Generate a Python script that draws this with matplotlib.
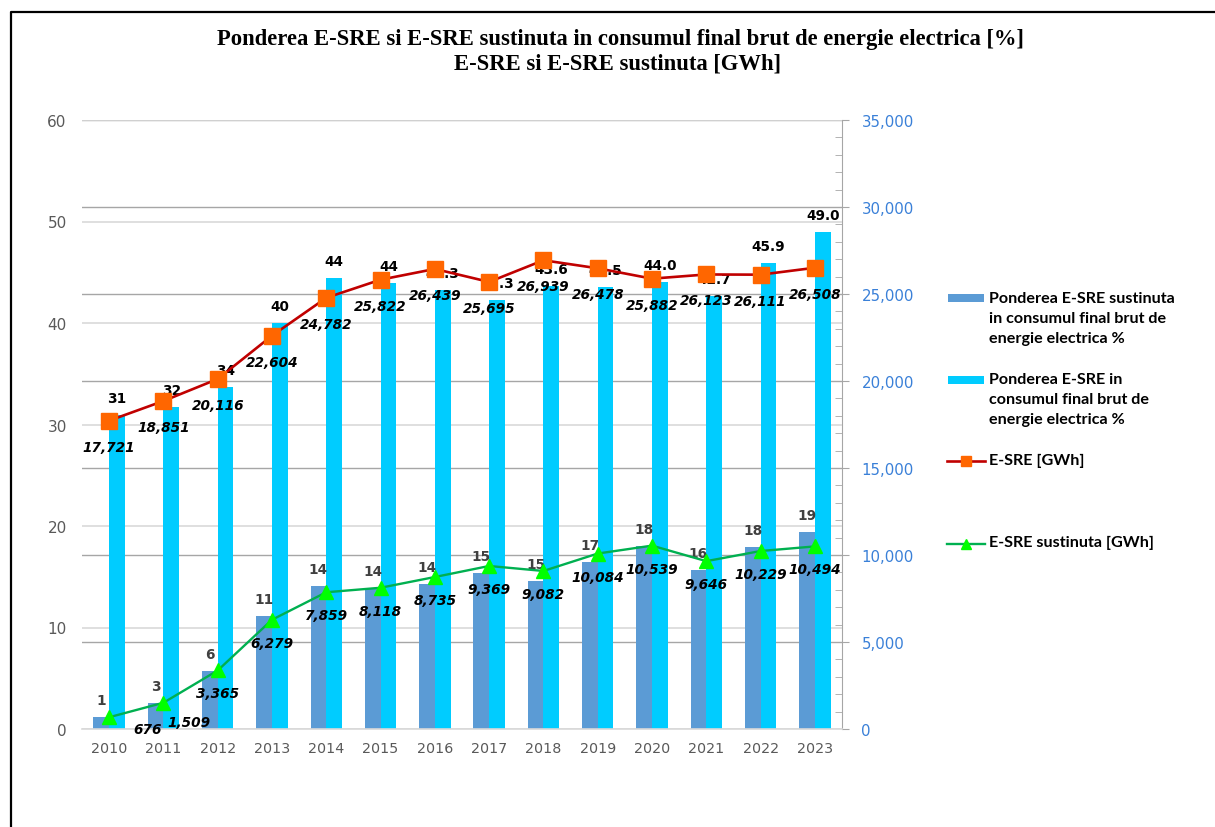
import matplotlib
matplotlib.use("Agg")
import matplotlib.pyplot as plt
from matplotlib.lines import Line2D
from matplotlib.patches import Rectangle
from matplotlib.ticker import MultipleLocator, FuncFormatter
import numpy as np

years = ["2010", "2011", "2012", "2013", "2014", "2015", "2016",
         "2017", "2018", "2019", "2020", "2021", "2022", "2023"]
pct_sustinuta = [1.2, 2.6, 5.7, 11.1, 14.1, 13.9, 14.3, 15.4, 14.6, 16.5, 18.0, 15.7, 17.9, 19.4]
pct_sustinuta_labels = ["1", "3", "6", "11", "14", "14", "14", "15", "15", "17", "18", "16", "18", "19"]
pct_esre = [30.9, 31.7, 33.7, 40.0, 44.4, 43.9, 43.3, 42.3, 43.6, 43.5, 44.0, 42.7, 45.9, 49.0]
pct_esre_labels = ["31", "32", "34", "40", "44", "44", "43.3", "42.3", "43.6", "43.5", "44.0", "42.7", "45.9", "49.0"]
gwh_esre = [17721, 18851, 20116, 22604, 24782, 25822, 26439, 25695, 26939, 26478, 25882, 26123, 26111, 26508]
gwh_sustinuta = [676, 1509, 3365, 6279, 7859, 8118, 8735, 9369, 9082, 10084, 10539, 9646, 10229, 10494]

legend_labels = ["Ponderea E-SRE sustinuta\nin consumul final brut de\nenergie electrica %",
                 "Ponderea E-SRE in\nconsumul final brut de\nenergie electrica %",
                 "E-SRE [GWh]",
                 "E-SRE sustinuta [GWh]"]

C_DARK = "#5B9BD5"
C_LIGHT = "#00CCFF"
C_RED = "#C00000"
C_ORANGE = "#FF6600"
C_GREEN = "#00B050"
C_LIME = "#00FF00"
C_BLUE_TXT = "#3A80D8"
C_GRAY_TXT = "#595959"

W, H = 1215, 828
fig = plt.figure(figsize=(W / 100, H / 100), dpi=100)
fig.patch.set_facecolor("white")

def fx(px):
    return px / W

def fy(py):
    return 1 - py / H

rect = [fx(82), fy(730), fx(842) - fx(82), fy(121) - fy(730)]
ax = fig.add_axes(rect)
axg = ax.twinx()
axl = ax.twinx()
axg.set_zorder(0)
ax.set_zorder(1)
axl.set_zorder(2)
ax.patch.set_visible(False)
axl.patch.set_visible(False)
axg.patch.set_facecolor("white")

x = np.arange(len(years))
bw = 0.29

# grid axis (right scale gridlines, ticks)
axg.set_ylim(0, 35000)
axg.yaxis.set_major_locator(MultipleLocator(5000))
axg.yaxis.set_minor_locator(MultipleLocator(1000))
axg.yaxis.set_major_formatter(FuncFormatter(lambda v, p: f"{int(v):,}"))
axg.grid(True, axis="y", which="major", color="#A6A6A6", linewidth=1.0)
axg.tick_params(axis="y", which="major", direction="out", length=5, color="#A6A6A6",
                labelcolor=C_BLUE_TXT, labelsize=10.8, pad=9)
axg.tick_params(axis="y", which="minor", direction="in", length=5, color="#A6A6A6")
for s in ["left", "top", "bottom"]:
    axg.spines[s].set_visible(False)
axg.spines["right"].set_color("#A6A6A6")

# bar axis
ax.set_xlim(-0.5, len(years) - 0.5)
ax.set_ylim(0, 60)
ax.yaxis.set_major_locator(MultipleLocator(10))
ax.set_axisbelow(True)
ax.grid(True, axis="y", color="#D9D9D9", linewidth=1.2)
for s in ["left", "top", "right"]:
    ax.spines[s].set_visible(False)
ax.spines["bottom"].set_color("#D9D9D9")
ax.spines["bottom"].set_linewidth(1.2)
ax.tick_params(axis="y", length=0, labelcolor=C_GRAY_TXT, labelsize=11, pad=11)
ax.tick_params(axis="x", length=0, labelcolor=C_GRAY_TXT, labelsize=10.3, pad=9)
ax.set_xticks(x)
ax.set_xticklabels(years)

b1 = ax.bar(x - bw / 2, pct_sustinuta, width=bw, color=C_DARK, zorder=2)
b2 = ax.bar(x + bw / 2, pct_esre, width=bw, color=C_LIGHT, zorder=2)

for rct, lab in zip(b1, pct_sustinuta_labels):
    ax.annotate(lab, (rct.get_x() + rct.get_width() / 2, rct.get_height()),
                xytext=(0, 17), textcoords="offset pixels", ha="center", va="center",
                fontsize=9.8, fontweight="bold", color="#404040", zorder=5)
for rct, lab in zip(b2, pct_esre_labels):
    ax.annotate(lab, (rct.get_x() + rct.get_width() / 2, rct.get_height()),
                xytext=(0, 17), textcoords="offset pixels", ha="center", va="center",
                fontsize=9.8, fontweight="bold", color="black", zorder=5)

# line axis
axl.set_ylim(0, 35000)
axl.set_yticks([])
for s in axl.spines.values():
    s.set_visible(False)

axl.plot(x, gwh_esre, color=C_RED, linewidth=1.9, marker="s", markersize=11,
         markerfacecolor=C_ORANGE, markeredgecolor=C_ORANGE, zorder=3)
axl.plot(x, gwh_sustinuta, color=C_GREEN, linewidth=1.7, marker="^", markersize=10,
         markerfacecolor=C_LIME, markeredgecolor=C_LIME, zorder=3)

for xi, v in zip(x, gwh_esre):
    axl.annotate(f"{v:,}", (xi, v), xytext=(0, -26), textcoords="offset pixels",
                 ha="center", va="center", fontsize=9.8, fontweight="bold",
                 fontstyle="italic", color="black", zorder=6)
sus_offsets = {0: (38, -12), 1: (26, -19)}
for i, (xi, v) in enumerate(zip(x, gwh_sustinuta)):
    off = sus_offsets.get(i, (0, -23))
    axl.annotate(f"{v:,}", (xi, v), xytext=off, textcoords="offset pixels",
                 ha="center", va="center", fontsize=9.8, fontweight="bold",
                 fontstyle="italic", color="black", zorder=6)

# Title
fig.text(fx(620), fy(40), "Ponderea E-SRE si E-SRE sustinuta in consumul final brut de energie electrica [%]",
         ha="center", va="center", fontsize=16.3, fontweight="bold", family="Liberation Serif")
fig.text(fx(618), fy(64), "E-SRE si E-SRE sustinuta [GWh]",
         ha="center", va="center", fontsize=16.3, fontweight="bold", family="Liberation Serif")

# Legend (manual)
leg_font = dict(fontsize=11.6, fontweight="bold", family="Lato", color="black",
                ha="left", va="top", linespacing=1.55)
tx = fx(989)
fig.patches.append(Rectangle((fx(948), fy(303)), fx(984) - fx(948), fy(295) - fy(303),
                             transform=fig.transFigure, facecolor=C_DARK, edgecolor="none"))
fig.text(tx, fy(292), legend_labels[0], **leg_font)
fig.patches.append(Rectangle((fx(948), fy(385)), fx(984) - fx(948), fy(377) - fy(385),
                             transform=fig.transFigure, facecolor=C_LIGHT, edgecolor="none"))
fig.text(tx, fy(373), legend_labels[1], **leg_font)
fig.lines.append(Line2D([fx(947), fx(985)], [fy(462), fy(462)], transform=fig.transFigure,
                        color=C_RED, linewidth=1.9))
fig.lines.append(Line2D([fx(966)], [fy(462)], transform=fig.transFigure, marker="s",
                        markersize=7, markerfacecolor=C_ORANGE, markeredgecolor=C_ORANGE))
fig.text(tx, fy(454), legend_labels[2], **leg_font)
fig.lines.append(Line2D([fx(947), fx(985)], [fy(545), fy(545)], transform=fig.transFigure,
                        color=C_GREEN, linewidth=1.7))
fig.lines.append(Line2D([fx(966)], [fy(545)], transform=fig.transFigure, marker="^",
                        markersize=7, markerfacecolor=C_LIME, markeredgecolor=C_LIME))
fig.text(tx, fy(536), legend_labels[3], **leg_font)

# Outer frame (left and top edges)
fig.lines.append(Line2D([fx(11), fx(11), fx(1215)], [fy(828), fy(13), fy(13)],
                        transform=fig.transFigure, color="black", linewidth=1.6))

fig.savefig("out.png", dpi=100, facecolor="white")
